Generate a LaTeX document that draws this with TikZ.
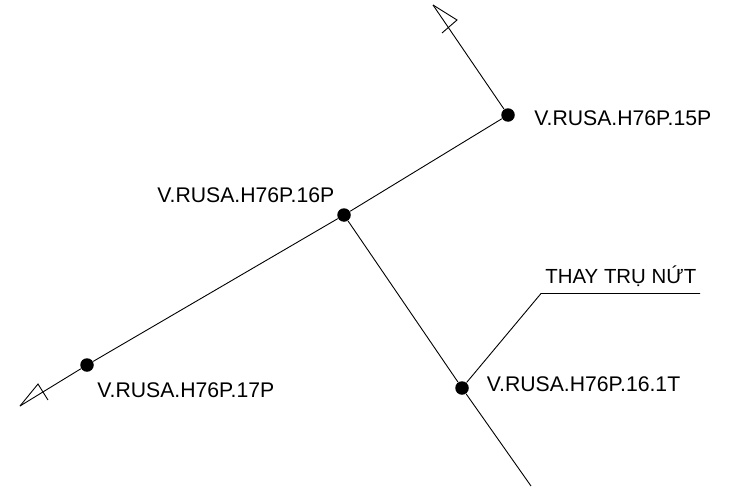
\documentclass[tikz,border=0pt]{standalone}
\usepackage{fontspec}
\setmainfont{Liberation Sans}
\tikzset{
  pole/.style={circle,fill=black,inner sep=0pt,minimum size=13.5pt},
  polelabel/.style={inner sep=0pt,anchor=base west,font=\fontsize{21.2}{25}\selectfont},
}

\begin{document}
\begin{tikzpicture}[x=1pt,y=-1pt,line width=0.9pt]
      \useasboundingbox (0,0) rectangle (730,495);
      \node[pole] (P15) at (508,115) {};
      \node[pole] (P16) at (344,215) {};
      \node[pole] (P17) at (87,365) {};
      \node[pole] (T161) at (462,388) {};
      \coordinate (TipTop) at (433,5);
      \coordinate (TipLeft) at (20,406);
      \coordinate (EndBottom) at (531,486);
      \coordinate (Bend) at (541,293.5);
      \coordinate (LeaderEnd) at (700,293.5);
      \node[polelabel] (L15) at (534,125) {V.RUSA.H76P.15P};
      \node[polelabel] (L16) at (157,202.5) {V.RUSA.H76P.16P};
      \node[polelabel] (L17) at (97,397) {V.RUSA.H76P.17P};
      \node[polelabel] (L161) at (486.5,391) {V.RUSA.H76P.16.1T};
      \node[polelabel,font=\fontsize{20.4}{25}\selectfont] (Note) at (545,283) {THAY TRỤ NỨT};
      \draw (P15) -- (P16);
      \draw (P16) -- (P17);
      \draw (P16) -- (T161);
      \draw (T161) -- (EndBottom);
      \draw (P15) -- (TipTop);
      \draw (P17) -- (TipLeft);
      \draw (T161) -- (Bend) -- (LeaderEnd);
      \draw (TipTop) -- (457,20) -- (442,33);
      \draw (TipLeft) -- (38,384) -- (48,400);
    \end{tikzpicture}
\end{document}
